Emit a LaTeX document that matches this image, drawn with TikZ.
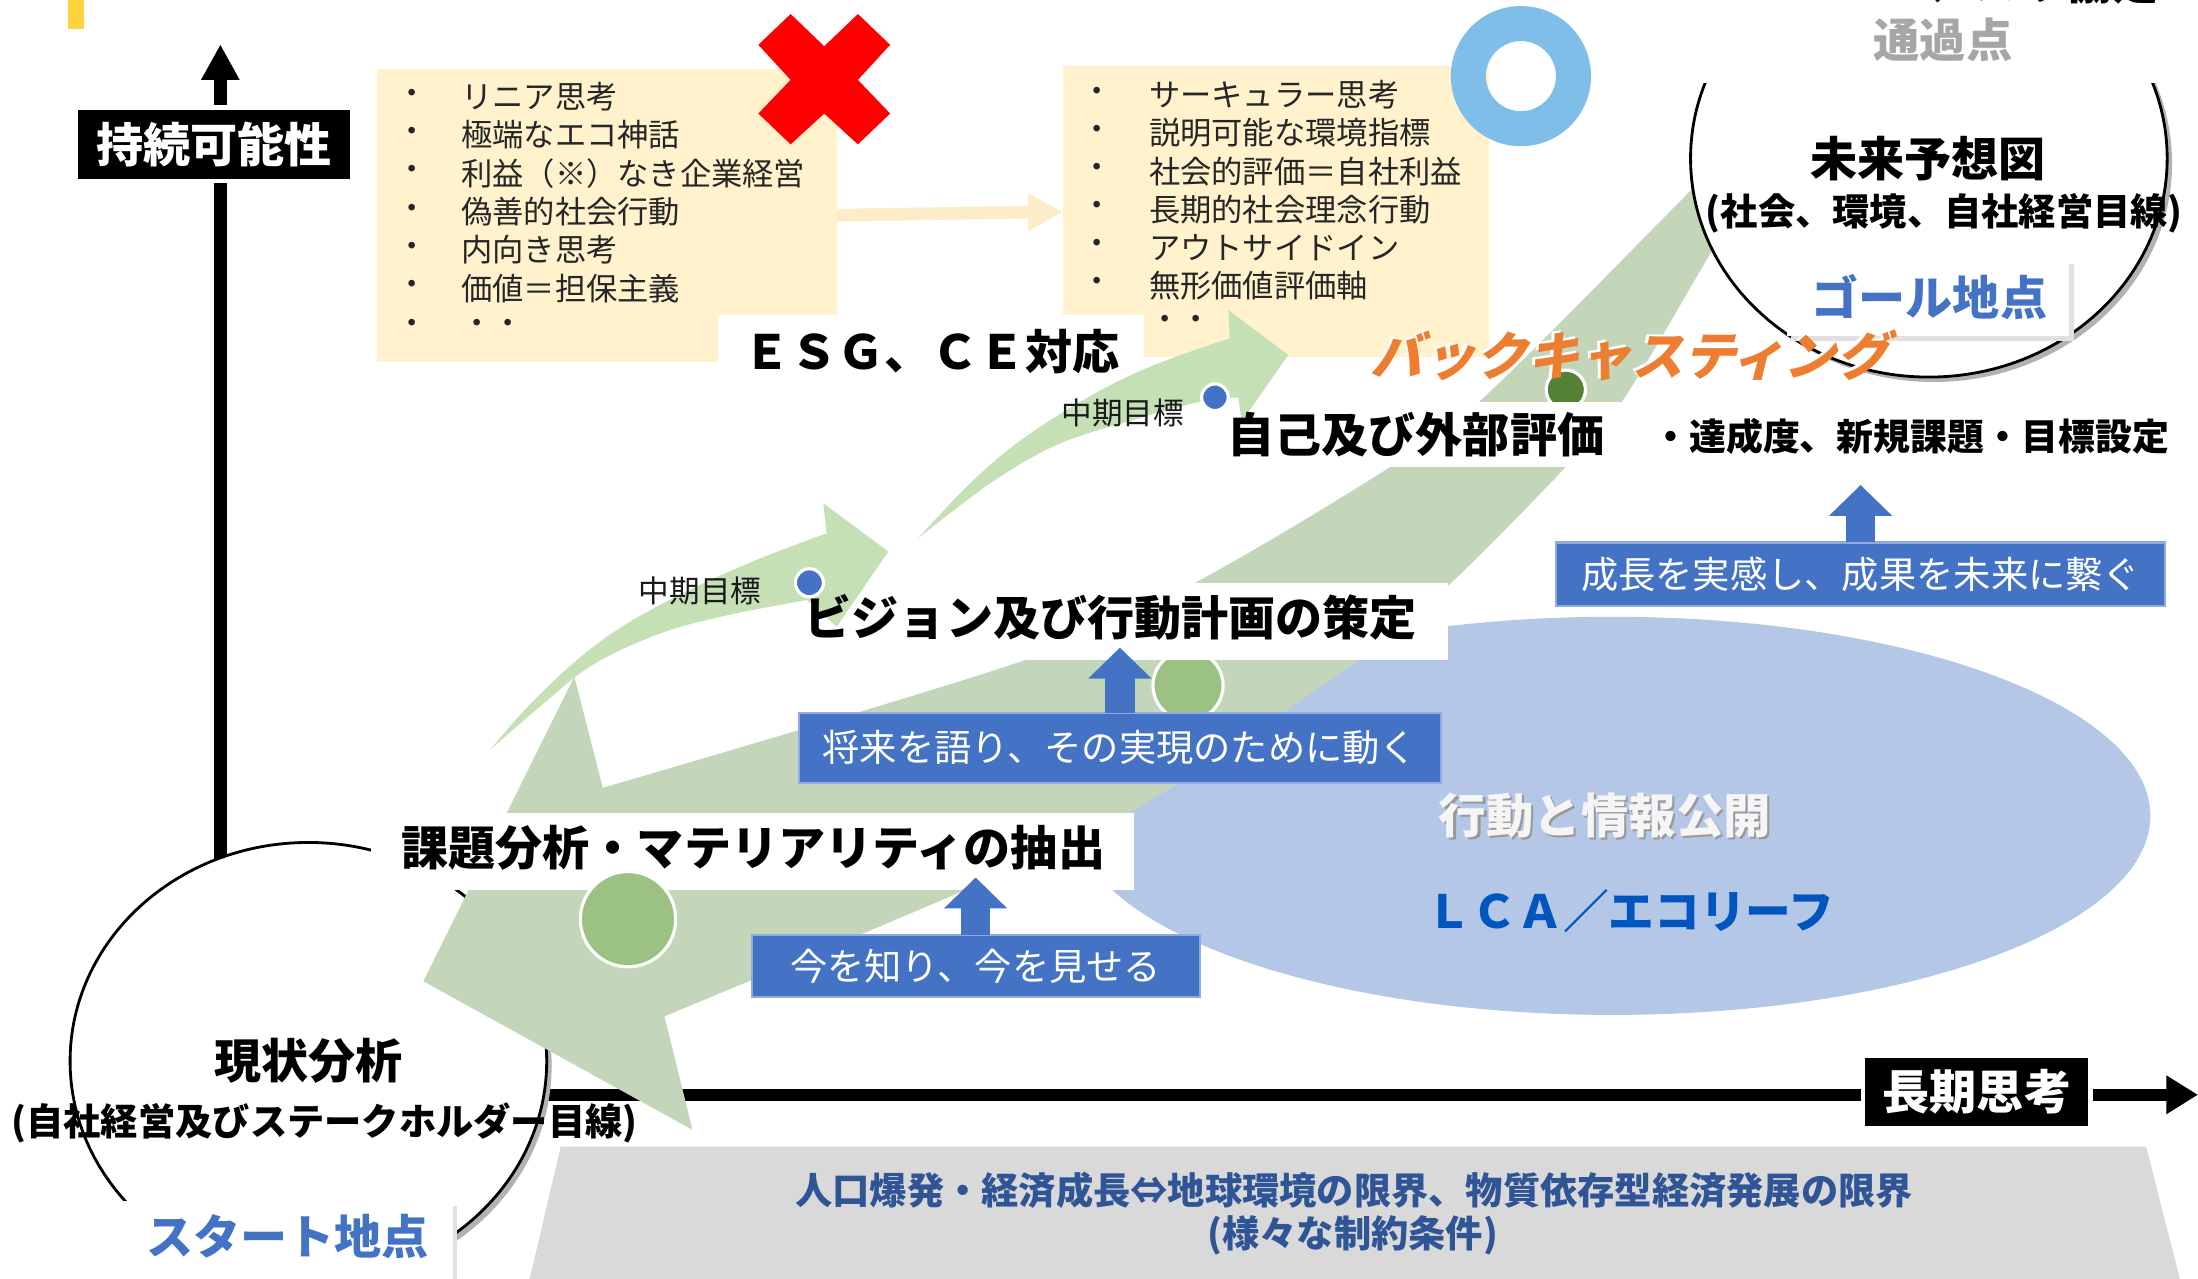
\documentclass[tikz,border=0pt]{standalone}
\usepackage{fontspec}
\setmainfont{Noto Sans CJK JP}
\usetikzlibrary{arrows.meta,shapes.geometric}
\definecolor{mblue}{RGB}{68,114,196}
\definecolor{edgeblue}{RGB}{143,170,220}
\definecolor{ellblue}{RGB}{180,199,231}
\definecolor{beige}{RGB}{255,242,204}
\definecolor{beigearr}{RGB}{252,236,200}
\definecolor{bandgreen}{RGB}{195,214,186}
\definecolor{lightgreen}{RGB}{197,224,180}
\definecolor{dotgreen}{RGB}{155,194,130}
\definecolor{darkgreen}{RGB}{84,130,53}
\definecolor{trapgrey}{RGB}{217,217,217}
\definecolor{trapblue}{RGB}{47,85,151}
\definecolor{goldbar}{RGB}{255,212,59}
\definecolor{bcorange}{RGB}{237,125,49}
\definecolor{lcablue}{RGB}{0,86,190}
\definecolor{ringblue}{RGB}{127,190,232}
\definecolor{passgrey}{RGB}{166,166,166}
\newcommand\pxu{0.39885pt}
\newcommand\szL{\fontsize{13.4pt}{16pt}\selectfont}
\newcommand\szM{\fontsize{10.6pt}{13pt}\selectfont}
\newcommand\szS{\fontsize{8.9pt}{11pt}\selectfont}
\newcommand\szT{\fontsize{8.7pt}{11pt}\selectfont}
\newcommand\szBC{\fontsize{14.8pt}{17pt}\selectfont}
\begin{document}
\begin{tikzpicture}[x=0.39885pt, y=-0.39885pt,
  every node/.style={inner sep=0pt, outer sep=0pt},
  bigjp/.style={font=\szL\bfseries, text=black},
  item/.style={font=\szS, text=black!85},
  midgoal/.style={font=\szT, text=black!90},
  bluebox/.style={fill=mblue, draw=edgeblue, line width=0.6pt, text=white, font=\szM},
  uparrow/.style={draw=mblue, line width=8.4pt, -{Triangle[length=8.8pt,width=17.5pt,fill=mblue]}},
  blackbox/.style={fill=black, draw=white, line width=1.4pt, text=white, font=\szL\bfseries},
  whitebox/.style={fill=white},
  beigebox/.style={fill=beige},
  bigell/.style={ellipse, draw=black, line width=0.8pt, fill=white, minimum width=340*\pxu, minimum height=312*\pxu},
  shadowell/.style={ellipse, fill=black!30, minimum width=340*\pxu, minimum height=312*\pxu},
  dotw/.style={draw=white, line width=0.9pt},
  placetext/.style={font=\szL\bfseries, text=mblue},
  trapfont/.style={font=\szM\bfseries, text=trapblue},
  boxshadow/.style={fill=black!12},
]
\useasboundingbox (0,0) rectangle (1568,912);
\fill[white] (0,0) rectangle (1568,912);

% yellow bar
\fill[goldbar] (48.6,0) rectangle (60,20.7);

% axes
\coordinate (vbot) at (157.2,700);
\coordinate (vtop) at (157.2,31.6);
\draw[line width=3.6pt, -{Triangle[length=10.1pt,width=10.2pt]}] (vbot) -- (vtop);
\coordinate (hleft) at (250,781);
\coordinate (hright) at (1568,781);
\draw[line width=3.3pt, -{Triangle[length=9pt,width=10.4pt]}] (hleft) -- (hright);

% constraint trapezoid
\fill[trapgrey] (400,818) -- (1531,818) -- (1556,916) -- (377,916) -- cycle;
\node[trapfont] (lim1) at (966,849) {人口爆発・経済成長⇔地球環境の限界、物質依存型経済発展の限界};
\node[trapfont] (lim2) at (965,881) {(様々な制約条件)};

% beige boxes
\node[beigebox, minimum width=328*\pxu, minimum height=209*\pxu] (oldbox) at (433,153.5) {};
\node[beigebox, minimum width=303.5*\pxu, minimum height=208*\pxu] (newbox) at (910.25,151) {};
\draw[draw=beigearr, line width=3.6pt, -{Triangle[length=10pt,width=10pt,fill=beigearr]}] (oldbox.east) -- (newbox.west);
\foreach \t [count=\i] in {リニア思考,極端なエコ神話,利益（※）なき企業経営,偽善的社会行動,内向き思考,価値＝担保主義,・・}{
  \node[item] (oldb\i) at (294,{69+27.33*(\i-1)}) {・};
  \node[item, anchor=west] (oldt\i) at (329,{69+27.33*(\i-1)}) {\t};
}
\foreach \t [count=\i] in {サーキュラー思考,説明可能な環境指標,社会的評価＝自社利益,長期的社会理念行動,アウトサイドイン,無形価値評価軸}{
  \node[item] (newb\i) at (783,{67.8+27.15*(\i-1)}) {・};
  \node[item, anchor=west] (newt\i) at (819.7,{67.8+27.15*(\i-1)}) {\t};
}
\node[item, anchor=west] (newt7) at (819.7,230.7) {・・};

% action ellipse
\fill[ellblue] (1150,582) ellipse [x radius=384, y radius=142];

% start ellipse
\node[shadowell] (nowshadow) at (223.5,760.5) {};
\node[bigell] (now) at (220,757) {};

% big backcasting band
\fill[bandgreen] plot[smooth, tension=0.55] coordinates {(1300,40) (1206,136) (1057,285) (992,333) (852,416) (731,471) (430,562)}
  -- (409.7,482.7) -- (302,700) -- (494,806) -- (474,725)
  -- plot[smooth, tension=0.55] coordinates {(474,725) (686,636) (806,580) (969,471) (1035,416) (1117,333) (1158,285) (1220,181) (1268,100)} -- cycle;

% future ellipse
\node[shadowell] (futshadow) at (1379.5,116.5) {};
\node[bigell] (future) at (1376,113) {};
\fill[white] (1205,-5) rectangle (1552,59);
\node[font=\fontsize{13.2pt}{16pt}\selectfont\bfseries, text=black] (topcut) at (1391,-13) {ＳＤＧｓ、パリ協定};
\node[font=\fontsize{13.2pt}{16pt}\selectfont\bfseries, text=passgrey] (pass) at (1386,28.5) {通過点};

% dots hidden partly by label boxes
\filldraw[fill=dotgreen, dotw] (847.5,489) circle [radius=25];
\filldraw[fill=darkgreen, dotw] (1117,278) circle [radius=14];

% label boxes
\node[blackbox, minimum width=197.7*\pxu, minimum height=52.5*\pxu] (sustain) at (152.5,102.9) {持続可能性};
\node[blackbox, minimum width=162.6*\pxu, minimum height=52.3*\pxu] (longterm) at (1410.3,778.8) {長期思考};
\node[whitebox, minimum width=304*\pxu, minimum height=55*\pxu] (esgbox) at (664,252.5) {};
\node[whitebox, minimum width=302*\pxu, minimum height=46.5*\pxu] (evalbox) at (1019,309.75) {};
\node[whitebox, minimum width=468*\pxu, minimum height=55*\pxu] (visionbox) at (799,443.5) {};
\node[whitebox, minimum width=543.7*\pxu, minimum height=55*\pxu] (issuebox) at (536.85,607.5) {};

% light green curved arrows
\fill[lightgreen] plot[smooth, tension=0.6] coordinates {(349.6,535) (375.7,505) (411.4,471) (447,445) (494.6,419.5) (542,398.5) (589.7,380.5)}
  -- (587.3,359) -- (633.7,393.5) -- (596.9,447) -- (575.5,428)
  -- plot[smooth, tension=0.6] coordinates {(575.5,428) (518.4,439) (470.8,452) (423.3,474) (387.6,502) (349.6,535)} -- cycle;
\fill[lightgreen] plot[smooth, tension=0.6] coordinates {(655,384) (689.6,347.2) (725.3,316.2) (772.8,285.3) (820.4,261.6) (877.4,241.3)}
  -- (876.2,221.1) -- (919,253.2) -- (885.8,300.8) -- (883.4,283.4)
  -- plot[smooth, tension=0.6] coordinates {(883.4,283.4) (851.3,287.7) (808.5,299.6) (756.2,316.3) (713.4,340.1) (677.7,366.2) (655,384)} -- cycle;

% mid-term goal dots and labels
\filldraw[fill=mblue, dotw] (577.4,415.7) circle [radius=10];
\filldraw[fill=mblue, dotw] (866.7,283.4) circle [radius=9.5];
\node[midgoal] (mid1) at (499.4,421.4) {中期目標};
\node[midgoal] (mid2) at (800.9,294.9) {中期目標};

% issue dot
\filldraw[fill=dotgreen, dotw] (448,655.7) circle [radius=34];

% label texts
\node[bigjp] (esg) at (664.5,251) {ＥＳＧ、ＣＥ対応};
\node[bigjp] (eval) at (1010,310) {自己及び外部評価};
\node[font=\fontsize{10.5pt}{13pt}\selectfont\bfseries] (evalnote) at (1363,311) {・達成度、新規課題・目標設定};
\node[bigjp] (vision) at (792.5,440.5) {ビジョン及び行動計画の策定};
\node[bigjp] (issue) at (537.4,604.6) {課題分析・マテリアリティの抽出};

% blue boxes with up arrows
\node[bluebox, minimum width=434.6*\pxu, minimum height=45*\pxu] (grow) at (1327.3,409.5) {成長を実感し、成果を未来に繋ぐ};
\coordinate (growtip) at (1327.3,346);
\draw[uparrow] (grow.north) -- (growtip);
\node[bluebox, minimum width=457.8*\pxu, minimum height=50*\pxu] (talk) at (798.9,533.4) {将来を語り、その実現のために動く};
\coordinate (talktip) at (798.9,462);
\draw[uparrow] (talk.north) -- (talktip);
\node[bluebox, minimum width=319.5*\pxu, minimum height=44.5*\pxu] (know) at (696,689.3) {今を知り、今を見せる};
\coordinate (knowtip) at (696,626);
\draw[uparrow] (know.north) -- (knowtip);

% action ellipse texts
\node[font=\fontsize{13.5pt}{16pt}\selectfont\bfseries, text=black!40] (actshadow) at (1146.5,583.5) {行動と情報公開};
\node[font=\fontsize{13.5pt}{16pt}\selectfont\bfseries, text=black!4] (act) at (1145,582) {行動と情報公開};
\node[font=\fontsize{13pt}{16pt}\selectfont\bfseries, text=lcablue] (lca) at (1163,650) {ＬＣＡ／エコリーフ};

% start ellipse texts and place box
\node[bigjp] (nowtitle) at (220,757) {現状分析};
\node[font=\szM\bfseries] (nowsub) at (231.5,800.8) {(自社経営及びステークホルダー目線)};
\fill[boxshadow] (90.6,860) rectangle (325.9,920);
\fill[white] (87.6,857) rectangle (322.9,920);
\node[placetext] (start) at (205,882) {スタート地点};

% future ellipse texts and place box
\node[bigjp] (futtitle) at (1375.6,113) {未来予想図};
\node[font=\szM\bfseries] (futsub) at (1387,152) {(社会、環境、自社経営目線)};
\fill[boxshadow] (1277.6,188.5) rectangle (1479.3,243);
\fill[white] (1274.6,185.5) rectangle (1476.3,240);
\node[placetext] (goal) at (1376.4,211.6) {ゴール地点};

% red cross and blue ring
\fill[red] (564,10) -- (588,33) -- (612,10) -- (635,32) -- (612,57) -- (635,81) -- (612,103) -- (588,81) -- (564,103) -- (541,81) -- (564,57) -- (541,32) -- cycle;
\fill[ringblue, even odd rule] (1085,54.3) circle [radius=50] (1085,54.3) circle [radius=25];

% backcasting text
\node[font=\szBC\bfseries, text=white, xslant=0.25] (bcw) at (1164.5,252.5) {バックキャスティング};
\node[font=\szBC\bfseries, text=bcorange, xslant=0.25] (bc) at (1166,254) {バックキャスティング};
\end{tikzpicture}
\end{document}
